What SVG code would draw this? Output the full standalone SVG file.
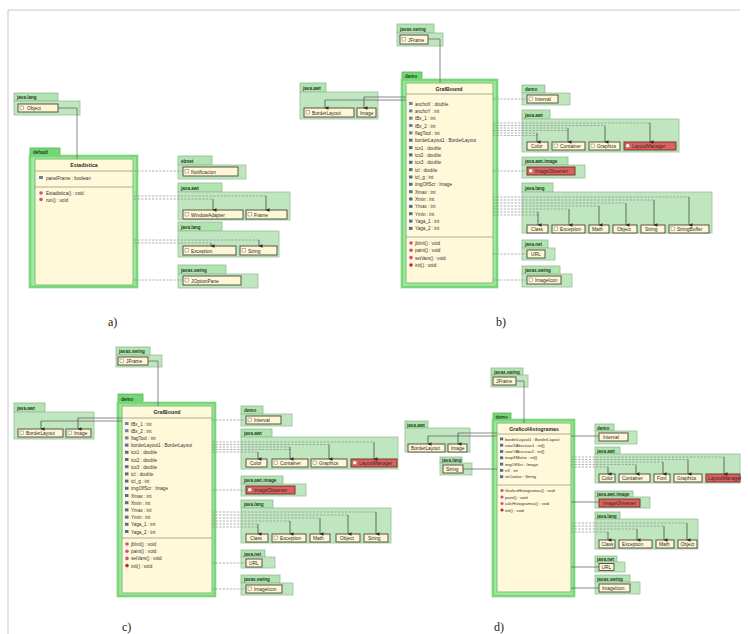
<svg xmlns="http://www.w3.org/2000/svg" width="748" height="634" viewBox="0 0 748 634">
<style>
.frame{stroke:#c8c8c8;stroke-width:1;fill:none}
.pb{fill:#bfe6bf;stroke:#9cbf9c;stroke-width:0.8}
.pt{fill:#b2e4b2;stroke:#92b992;stroke-width:0.8}
.mb{fill:#a3e8a3;stroke:#78d878;stroke-width:2.6}
.mt{fill:#74d674;stroke:#55b555;stroke-width:0.8}
.c{fill:#fff6d4;stroke:#55554a;stroke-width:1}
.r{fill:#de605c;stroke:#6e3a33;stroke-width:1}
.mc{fill:#fff8d9;stroke:#7bbf7b;stroke-width:1}
.sep{stroke:#9a9a80;stroke-width:0.8}
.ic{fill:#fffdf2;stroke:#777;stroke-width:0.5}
.ia{fill:#6c7fb8}
.ik{fill:#4f6aa6}
.im{fill:#d0508a}
.ix{fill:#b03030}
.t{font-family:"Liberation Sans",Arial,sans-serif;font-size:4.8px;fill:#2a2a2a}
.tp{font-family:"Liberation Sans",Arial,sans-serif;font-size:4.6px;font-weight:bold;fill:#1e3a1e}
.tn{font-family:"Liberation Sans",Arial,sans-serif;font-size:5.2px;font-weight:bold;fill:#2a2a2a}
.tm{font-family:"Liberation Sans",Arial,sans-serif;font-size:4.6px;fill:#333}
.tm2{font-family:"Liberation Sans",Arial,sans-serif;font-size:4.1px;fill:#333}
.lab{font-family:"Liberation Serif","Times New Roman",serif;font-size:12px;fill:#222}
.d{stroke:#8c8c8c;stroke-width:0.7;stroke-dasharray:2.2,1.4;fill:none}
.s{stroke:#6a6a6a;stroke-width:0.8;fill:none}
.v{stroke:#3a3a3a;stroke-width:0.7;fill:none}
</style>
<defs>
<marker id="ah" markerWidth="4" markerHeight="4" refX="2" refY="3.5" orient="auto-start-reverse" markerUnits="userSpaceOnUse" viewBox="0 0 4 4">
<path d="M0.3,0 L2,3.8 L3.7,0 Z" fill="#2a2a2a"/>
</marker>
</defs>
<path class="frame" d="M8 634 V10 H740"/>

<!-- ============ a) ============ -->
<g id="a-java-lang">
<rect class="pt" x="14" y="93" width="44" height="8"/><text class="tp" x="17" y="99">java.lang</text>
<rect class="pb" x="14" y="101" width="66" height="14"/>
<rect class="c" x="18" y="104" width="40" height="8"/><rect class="ic" x="20" y="106" width="3.5" height="3.5"/><text class="t" x="27" y="110">Object</text>
</g>
<g id="a-main">
<rect class="mt" x="30" y="148" width="30" height="8"/><text class="tp" x="33" y="154">default</text>
<rect class="mb" x="30" y="156" width="107" height="131"/>
<rect class="mc" x="35" y="159" width="98" height="126"/>
<text class="tn" x="84" y="167" text-anchor="middle">Estadistica</text>
<line class="sep" x1="35" y1="171" x2="133" y2="171"/>
<rect class="ia" x="39" y="176" width="4" height="3"/><text class="tm" x="46" y="179.5">panelFrame : boolean</text>
<line class="sep" x1="35" y1="187" x2="133" y2="187"/>
<circle class="im" cx="41" cy="193" r="1.8"/><text class="tm" x="46" y="195">Estadistica() : void</text>
<circle class="im" cx="41" cy="199.5" r="1.8"/><text class="tm" x="46" y="201.5">run() : void</text>
</g>
<g id="a-ebnet">
<rect class="pt" x="178" y="156" width="34" height="9"/><text class="tp" x="181" y="162.5">ebnet</text>
<rect class="pb" x="178" y="165" width="68" height="14"/>
<rect class="c" x="183" y="167" width="55" height="9"/><rect class="ic" x="185" y="169.5" width="3.5" height="3.5"/><text class="t" x="191" y="173.5">Notificacion</text>
</g>
<g id="a-java-awt">
<rect class="pt" x="178" y="183" width="44" height="9"/><text class="tp" x="181" y="189.5">java.awt</text>
<rect class="pb" x="178" y="192" width="112" height="28"/>
<rect class="c" x="183" y="210" width="60" height="9"/><rect class="ic" x="185" y="212.5" width="3.5" height="3.5"/><text class="t" x="191" y="216.5">WindowAdapter</text>
<rect class="c" x="246" y="210" width="41" height="9"/><rect class="ic" x="248" y="212.5" width="3.5" height="3.5"/><text class="t" x="254" y="216.5">Frame</text>
</g>
<g id="a-java-lang2">
<rect class="pt" x="178" y="222" width="44" height="9"/><text class="tp" x="181" y="228.5">java.lang</text>
<rect class="pb" x="178" y="231" width="101" height="26"/>
<rect class="c" x="183" y="246" width="53" height="9"/><rect class="ic" x="185" y="248.5" width="3.5" height="3.5"/><text class="t" x="191" y="252.5">Exception</text>
<rect class="c" x="240" y="246" width="37" height="9"/><rect class="ic" x="242" y="248.5" width="3.5" height="3.5"/><text class="t" x="248" y="252.5">String</text>
</g>
<g id="a-javax-swing">
<rect class="pt" x="178" y="265" width="48" height="9"/><text class="tp" x="181" y="271.5">javax.swing</text>
<rect class="pb" x="178" y="274" width="80" height="14"/>
<rect class="c" x="183" y="276" width="58" height="9"/><rect class="ic" x="185" y="278.5" width="3.5" height="3.5"/><text class="t" x="191" y="282.5">JOptionPane</text>
</g>
<text class="lab" x="108" y="326">a)</text>

<!-- ============ b) ============ -->
<g id="b-javax-swing-top">
<rect class="pt" x="397" y="24" width="37" height="9"/><text class="tp" x="400" y="30.5">javax.swing</text>
<rect class="pb" x="397" y="33" width="46" height="13"/>
<rect class="c" x="400" y="35" width="28" height="9"/><rect class="ic" x="402" y="37.5" width="3.5" height="3.5"/><text class="t" x="408" y="41.5">JFrame</text>
</g>
<g id="b-java-awt-left">
<rect class="pt" x="300" y="83" width="26" height="9"/><text class="tp" x="303" y="89.5">java.awt</text>
<rect class="pb" x="300" y="92" width="78" height="27"/>
<rect class="c" x="304" y="108" width="50" height="9"/><rect class="ic" x="306" y="110.5" width="3.5" height="3.5"/><text class="t" x="312" y="114.5">BorderLayout</text>
<rect class="c" x="357" y="108" width="19" height="9"/><text class="t" x="360" y="114.5">Image</text>
</g>
<g id="b-main">
<rect class="mt" x="402" y="72" width="20" height="8"/><text class="tp" x="405" y="78">demo</text>
<rect class="mb" x="402" y="80" width="95" height="207"/>
<rect class="mc" x="406" y="83" width="87" height="200"/>
<text class="tn" x="449" y="91" text-anchor="middle">GrafBound</text>
<line class="sep" x1="406" y1="94" x2="493" y2="94"/>
<g class="tm">
<rect class="ia" x="409" y="102" width="3.5" height="3"/><text x="415" y="105.5">anchoX : double</text>
<rect class="ia" x="409" y="109.4" width="3.5" height="3"/><text x="415" y="112.9">anchoY : int</text>
<rect class="ia" x="409" y="116.7" width="3.5" height="3"/><text x="415" y="120.2">tBx_1 : int</text>
<rect class="ia" x="409" y="124" width="3.5" height="3"/><text x="415" y="127.5">tBx_2 : int</text>
<rect class="ia" x="409" y="131.4" width="3.5" height="3"/><text x="415" y="134.9">flagTool : int</text>
<rect class="ik" x="409" y="138.7" width="3.5" height="3"/><text x="415" y="142.2">borderLayout1 : BorderLayout</text>
<rect class="ik" x="409" y="146.1" width="3.5" height="3"/><text x="415" y="149.6">tcx1 : double</text>
<rect class="ik" x="409" y="153.4" width="3.5" height="3"/><text x="415" y="156.9">tcx2 : double</text>
<rect class="ik" x="409" y="160.8" width="3.5" height="3"/><text x="415" y="164.3">tcx3 : double</text>
<rect class="ik" x="409" y="168.1" width="3.5" height="3"/><text x="415" y="171.6">tcl : double</text>
<rect class="ik" x="409" y="175.5" width="3.5" height="3"/><text x="415" y="179">tcl_g : int</text>
<rect class="ik" x="409" y="182.8" width="3.5" height="3"/><text x="415" y="186.3">imgOffScr : Image</text>
<rect class="ik" x="409" y="190.2" width="3.5" height="3"/><text x="415" y="193.7">Xmax : int</text>
<rect class="ik" x="409" y="197.5" width="3.5" height="3"/><text x="415" y="201">Xmin : int</text>
<rect class="ik" x="409" y="204.9" width="3.5" height="3"/><text x="415" y="208.4">Ymax : int</text>
<rect class="ik" x="409" y="212.2" width="3.5" height="3"/><text x="415" y="215.7">Ymin : int</text>
<rect class="ik" x="409" y="219.6" width="3.5" height="3"/><text x="415" y="223.1">Yaga_1 : int</text>
<rect class="ik" x="409" y="226.9" width="3.5" height="3"/><text x="415" y="230.4">Yaga_2 : int</text>
</g>
<line class="sep" x1="406" y1="237" x2="493" y2="237"/>
<g class="tm">
<circle class="im" cx="411" cy="243" r="1.8"/><text x="415" y="245">jbInit() : void</text>
<circle class="im" cx="411" cy="250.3" r="1.8"/><text x="415" y="252.3">paint() : void</text>
<circle class="im" cx="411" cy="257.6" r="1.8"/><text x="415" y="259.6">setVars() : void</text>
<circle class="ix" cx="411" cy="265" r="1.8"/><text x="415" y="267">init() : void</text>
</g>
</g>
<g id="b-demo">
<rect class="pt" x="522" y="85" width="23" height="8"/><text class="tp" x="525" y="91">demo</text>
<rect class="pb" x="522" y="93" width="48" height="12"/>
<rect class="c" x="527" y="95" width="31" height="8"/><rect class="ic" x="529" y="97" width="3.5" height="3.5"/><text class="t" x="535" y="101">Interval</text>
</g>
<g id="b-java-awt">
<rect class="pt" x="522" y="110" width="28" height="9"/><text class="tp" x="525" y="116.5">java.awt</text>
<rect class="pb" x="522" y="119" width="157" height="33"/>
<rect class="c" x="527" y="142" width="21" height="8"/><text class="t" x="531" y="148">Color</text>
<rect class="c" x="552" y="142" width="33" height="8"/><rect class="ic" x="554" y="144" width="3.5" height="3.5"/><text class="t" x="560" y="148">Container</text>
<rect class="c" x="589" y="142" width="31" height="8"/><rect class="ic" x="591" y="144" width="3.5" height="3.5"/><text class="t" x="597" y="148">Graphics</text>
<rect class="r" x="624" y="142" width="52" height="8"/><rect class="ic" x="626" y="144" width="3.5" height="3.5"/><text class="t" x="632" y="148">LayoutManager</text>
</g>
<g id="b-java-awt-image">
<rect class="pt" x="522" y="157" width="46" height="8"/><text class="tp" x="525" y="163">java.awt.image</text>
<rect class="pb" x="522" y="165" width="63" height="13"/>
<rect class="r" x="527" y="167" width="48" height="8"/><rect class="ic" x="529" y="169" width="3.5" height="3.5"/><text class="t" x="535" y="173">ImageObserver</text>
</g>
<g id="b-java-lang">
<rect class="pt" x="522" y="183" width="31" height="9"/><text class="tp" x="525" y="189.5">java.lang</text>
<rect class="pb" x="522" y="192" width="190" height="41"/>
<rect class="c" x="527" y="225" width="21" height="8"/><text class="t" x="531" y="231">Class</text>
<rect class="c" x="552" y="225" width="33" height="8"/><rect class="ic" x="554" y="227" width="3.5" height="3.5"/><text class="t" x="560" y="231">Exception</text>
<rect class="c" x="589" y="225" width="20" height="8"/><text class="t" x="592" y="231">Math</text>
<rect class="c" x="613" y="225" width="24" height="8"/><text class="t" x="617" y="231">Object</text>
<rect class="c" x="641" y="225" width="24" height="8"/><text class="t" x="645" y="231">String</text>
<rect class="c" x="669" y="225" width="40" height="8"/><rect class="ic" x="671" y="227" width="3.5" height="3.5"/><text class="t" x="677" y="231">StringBuffer</text>
</g>
<g id="b-java-net">
<rect class="pt" x="522" y="240" width="26" height="8"/><text class="tp" x="525" y="246">java.net</text>
<rect class="pb" x="522" y="248" width="33" height="12"/>
<rect class="c" x="527" y="250" width="18" height="8"/><text class="t" x="531" y="256">URL</text>
</g>
<g id="b-javax-swing">
<rect class="pt" x="522" y="266" width="38" height="8"/><text class="tp" x="525" y="272">javax.swing</text>
<rect class="pb" x="522" y="274" width="50" height="13"/>
<rect class="c" x="527" y="276" width="34" height="8"/><rect class="ic" x="529" y="278" width="3.5" height="3.5"/><text class="t" x="535" y="282">ImageIcon</text>
</g>
<text class="lab" x="496" y="326">b)</text>

<!-- ============ c) ============ -->
<g id="c-javax-swing-top">
<rect class="pt" x="116" y="347" width="34" height="8"/><text class="tp" x="119" y="353">javax.swing</text>
<rect class="pb" x="116" y="355" width="46" height="12"/>
<rect class="c" x="118" y="357" width="30" height="8"/><rect class="ic" x="120" y="359" width="3.5" height="3.5"/><text class="t" x="126" y="363">JFrame</text>
</g>
<g id="c-java-awt-left">
<rect class="pt" x="14" y="403" width="31" height="9"/><text class="tp" x="17" y="409.5">java.awt</text>
<rect class="pb" x="14" y="412" width="80" height="27"/>
<rect class="c" x="18" y="429" width="45" height="8"/><rect class="ic" x="20" y="431" width="3.5" height="3.5"/><text class="t" x="26" y="435">BorderLayout</text>
<rect class="c" x="66" y="429" width="25" height="8"/><rect class="ic" x="68" y="431" width="3.5" height="3.5"/><text class="t" x="74" y="435">Image</text>
</g>
<g id="c-main">
<rect class="mt" x="118" y="394" width="25" height="9"/><text class="tp" x="121" y="400.5">demo</text>
<rect class="mb" x="118" y="403" width="97" height="193"/>
<rect class="mc" x="122" y="406" width="90" height="187"/>
<text class="tn" x="167" y="414" text-anchor="middle">GrafBound</text>
<line class="sep" x1="122" y1="418" x2="212" y2="418"/>
<g class="tm">
<rect class="ia" x="125" y="422" width="3.5" height="3"/><text x="131" y="425.5">tBx_1 : int</text>
<rect class="ia" x="125" y="429.2" width="3.5" height="3"/><text x="131" y="432.7">tBx_2 : int</text>
<rect class="ia" x="125" y="436.4" width="3.5" height="3"/><text x="131" y="439.9">flagTool : int</text>
<rect class="ik" x="125" y="443.6" width="3.5" height="3"/><text x="131" y="447.1">borderLayout1 : BorderLayout</text>
<rect class="ik" x="125" y="450.8" width="3.5" height="3"/><text x="131" y="454.3">tcx1 : double</text>
<rect class="ik" x="125" y="458" width="3.5" height="3"/><text x="131" y="461.5">tcx2 : double</text>
<rect class="ik" x="125" y="465.2" width="3.5" height="3"/><text x="131" y="468.7">tcx3 : double</text>
<rect class="ik" x="125" y="472.4" width="3.5" height="3"/><text x="131" y="475.9">tcl : double</text>
<rect class="ik" x="125" y="479.6" width="3.5" height="3"/><text x="131" y="483.1">tcl_g : int</text>
<rect class="ik" x="125" y="486.8" width="3.5" height="3"/><text x="131" y="490.3">imgOffScr : Image</text>
<rect class="ik" x="125" y="494" width="3.5" height="3"/><text x="131" y="497.5">Xmax : int</text>
<rect class="ik" x="125" y="501.2" width="3.5" height="3"/><text x="131" y="504.7">Xmin : int</text>
<rect class="ik" x="125" y="508.4" width="3.5" height="3"/><text x="131" y="511.9">Ymax : int</text>
<rect class="ik" x="125" y="515.6" width="3.5" height="3"/><text x="131" y="519.1">Ymin : int</text>
<rect class="ik" x="125" y="522.8" width="3.5" height="3"/><text x="131" y="526.3">Yaga_1 : int</text>
<rect class="ik" x="125" y="530" width="3.5" height="3"/><text x="131" y="533.5">Yaga_2 : int</text>
</g>
<line class="sep" x1="122" y1="538" x2="212" y2="538"/>
<g class="tm">
<circle class="im" cx="127" cy="544" r="1.8"/><text x="131" y="546">jbInit() : void</text>
<circle class="im" cx="127" cy="551.2" r="1.8"/><text x="131" y="553.2">paint() : void</text>
<circle class="im" cx="127" cy="558.4" r="1.8"/><text x="131" y="560.4">setVars() : void</text>
<circle class="ix" cx="127" cy="565.6" r="1.8"/><text x="131" y="567.6">init() : void</text>
</g>
</g>
<g id="c-demo">
<rect class="pt" x="241" y="406" width="22" height="8"/><text class="tp" x="244" y="412">demo</text>
<rect class="pb" x="241" y="414" width="51" height="12"/>
<rect class="c" x="246" y="416" width="35" height="8"/><rect class="ic" x="248" y="418" width="3.5" height="3.5"/><text class="t" x="254" y="422">Interval</text>
</g>
<g id="c-java-awt">
<rect class="pt" x="241" y="429" width="31" height="8"/><text class="tp" x="244" y="435">java.awt</text>
<rect class="pb" x="241" y="437" width="157" height="32"/>
<rect class="c" x="246" y="459" width="21" height="8"/><text class="t" x="250" y="465">Color</text>
<rect class="c" x="272" y="459" width="36" height="8"/><rect class="ic" x="274" y="461" width="3.5" height="3.5"/><text class="t" x="280" y="465">Container</text>
<rect class="c" x="311" y="459" width="36" height="8"/><rect class="ic" x="313" y="461" width="3.5" height="3.5"/><text class="t" x="319" y="465">Graphics</text>
<rect class="r" x="351" y="459" width="46" height="8"/><rect class="ic" x="353" y="461" width="3.5" height="3.5"/><text class="t" x="359" y="465">LayoutManager</text>
</g>
<g id="c-java-awt-image">
<rect class="pt" x="241" y="476" width="42" height="8"/><text class="tp" x="244" y="482">java.awt.image</text>
<rect class="pb" x="241" y="484" width="65" height="12"/>
<rect class="r" x="246" y="486" width="49" height="8"/><rect class="ic" x="248" y="488" width="3.5" height="3.5"/><text class="t" x="254" y="492">ImageObserver</text>
</g>
<g id="c-java-lang">
<rect class="pt" x="241" y="500" width="32" height="8"/><text class="tp" x="244" y="506">java.lang</text>
<rect class="pb" x="241" y="508" width="150" height="35"/>
<rect class="c" x="246" y="534" width="22" height="8"/><text class="t" x="250" y="540">Class</text>
<rect class="c" x="272" y="534" width="34" height="8"/><rect class="ic" x="274" y="536" width="3.5" height="3.5"/><text class="t" x="280" y="540">Exception</text>
<rect class="c" x="310" y="534" width="20" height="8"/><text class="t" x="313" y="540">Math</text>
<rect class="c" x="336" y="534" width="24" height="8"/><text class="t" x="340" y="540">Object</text>
<rect class="c" x="364" y="534" width="24" height="8"/><text class="t" x="368" y="540">String</text>
</g>
<g id="c-java-net">
<rect class="pt" x="241" y="550" width="24" height="7"/><text class="tp" x="244" y="555.5">java.net</text>
<rect class="pb" x="241" y="557" width="34" height="11"/>
<rect class="c" x="246" y="559" width="16" height="8"/><text class="t" x="249" y="565">URL</text>
</g>
<g id="c-javax-swing">
<rect class="pt" x="241" y="575" width="39" height="8"/><text class="tp" x="244" y="581">javax.swing</text>
<rect class="pb" x="241" y="583" width="52" height="12"/>
<rect class="c" x="246" y="585" width="36" height="8"/><rect class="ic" x="248" y="587" width="3.5" height="3.5"/><text class="t" x="254" y="591">ImageIcon</text>
</g>
<text class="lab" x="122" y="631">c)</text>

<!-- ============ d) ============ -->
<g id="d-javax-swing-top">
<rect class="pt" x="491" y="368" width="32" height="7"/><text class="tp" x="494" y="373.5">javax.swing</text>
<rect class="pb" x="491" y="375" width="37" height="12"/>
<rect class="c" x="493" y="377" width="23" height="8"/><text class="t" x="496" y="383">JFrame</text>
</g>
<g id="d-java-awt-left">
<rect class="pt" x="405" y="421" width="23" height="7"/><text class="tp" x="407" y="426.5">java.awt</text>
<rect class="pb" x="405" y="428" width="65" height="24"/>
<rect class="c" x="408" y="444" width="37" height="8"/><text class="t" x="411" y="450">BorderLayout</text>
<rect class="c" x="448" y="444" width="19" height="8"/><text class="t" x="451" y="450">Image</text>
</g>
<g id="d-java-lang-left">
<rect class="pt" x="440" y="457" width="22" height="6"/><text class="tp" x="442" y="462">java.lang</text>
<rect class="pb" x="440" y="463" width="32" height="12"/>
<rect class="c" x="443" y="465" width="20" height="8"/><text class="t" x="446" y="471">String</text>
</g>
<g id="d-main">
<rect class="mt" x="493" y="413" width="18" height="7"/><text class="tp" x="495.5" y="418.5">demo</text>
<rect class="mb" x="493" y="420" width="81" height="176"/>
<rect class="mc" x="497" y="423" width="74" height="169"/>
<text class="tn" x="534" y="431" text-anchor="middle">GraficoHistogramas</text>
<line class="sep" x1="497" y1="434" x2="571" y2="434"/>
<g class="tm2">
<rect class="ik" x="500" y="437.5" width="3.2" height="2.8"/><text x="505" y="440.5">borderLayout1 : BorderLayout</text>
<rect class="ik" x="500" y="443.8" width="3.2" height="2.8"/><text x="505" y="446.8">coorXAbscisas1 : int[]</text>
<rect class="ik" x="500" y="450.1" width="3.2" height="2.8"/><text x="505" y="453.1">coorYAbscisas1 : int[]</text>
<rect class="ik" x="500" y="456.4" width="3.2" height="2.8"/><text x="505" y="459.4">mapXMatriz : int[]</text>
<rect class="ik" x="500" y="462.7" width="3.2" height="2.8"/><text x="505" y="465.7">imgOffScr : Image</text>
<rect class="ik" x="500" y="469" width="3.2" height="2.8"/><text x="505" y="472">nX : int</text>
<rect class="ik" x="500" y="475.3" width="3.2" height="2.8"/><text x="505" y="478.3">strContar : String</text>
</g>
<line class="sep" x1="497" y1="485" x2="571" y2="485"/>
<g class="tm2">
<circle class="im" cx="502" cy="490.5" r="1.6"/><text x="505" y="492.3">GraficoHistogramas() : void</text>
<circle class="im" cx="502" cy="497" r="1.6"/><text x="505" y="498.8">paint() : void</text>
<circle class="im" cx="502" cy="503.5" r="1.6"/><text x="505" y="505.3">calcHistogramas() : void</text>
<circle class="ix" cx="502" cy="510" r="1.6"/><text x="505" y="511.8">init() : void</text>
</g>
</g>
<g id="d-demo">
<rect class="pt" x="595" y="424" width="19" height="7"/><text class="tp" x="597" y="429.5">demo</text>
<rect class="pb" x="595" y="431" width="42" height="13"/>
<rect class="c" x="599" y="433" width="29" height="8"/><text class="t" x="603" y="439">Interval</text>
</g>
<g id="d-java-awt">
<rect class="pt" x="595" y="447" width="25" height="7"/><text class="tp" x="597" y="452.5">java.awt</text>
<rect class="pb" x="595" y="454" width="145" height="29"/>
<rect class="c" x="599" y="474" width="16" height="8"/><text class="t" x="601.5" y="480">Color</text>
<rect class="c" x="619" y="474" width="31" height="8"/><text class="t" x="622" y="480">Container</text>
<rect class="c" x="654" y="474" width="16" height="8"/><text class="t" x="657" y="480">Font</text>
<rect class="c" x="674" y="474" width="28" height="8"/><text class="t" x="677" y="480">Graphics</text>
<rect class="r" x="706" y="474" width="34" height="8"/><text class="t" x="708" y="480">LayoutManager</text>
</g>
<g id="d-java-awt-image">
<rect class="pt" x="595" y="491" width="38" height="6"/><text class="tp" x="597" y="496">java.awt.image</text>
<rect class="pb" x="595" y="497" width="55" height="11"/>
<rect class="r" x="599" y="499" width="41" height="8"/><text class="t" x="603" y="505">ImageObserver</text>
</g>
<g id="d-java-lang">
<rect class="pt" x="595" y="512" width="25" height="7"/><text class="tp" x="597" y="517.5">java.lang</text>
<rect class="pb" x="595" y="519" width="103" height="30"/>
<rect class="c" x="599" y="540" width="16" height="8"/><text class="t" x="601.5" y="546">Class</text>
<rect class="c" x="619" y="540" width="33" height="8"/><text class="t" x="622" y="546">Exception</text>
<rect class="c" x="656" y="540" width="18" height="8"/><text class="t" x="659" y="546">Math</text>
<rect class="c" x="678" y="540" width="19" height="8"/><text class="t" x="680.5" y="546">Object</text>
</g>
<g id="d-java-net">
<rect class="pt" x="595" y="556" width="22" height="6"/><text class="tp" x="597" y="561">java.net</text>
<rect class="pb" x="595" y="562" width="30" height="10"/>
<rect class="c" x="599" y="563.5" width="15" height="7"/><text class="t" x="601.5" y="568.8">URL</text>
</g>
<g id="d-javax-swing">
<rect class="pt" x="595" y="575" width="35" height="7"/><text class="tp" x="597" y="580.5">javax.swing</text>
<rect class="pb" x="595" y="582" width="45" height="12"/>
<rect class="c" x="599" y="584" width="31" height="8"/><text class="t" x="602" y="590">ImageIcon</text>
</g>
<text class="lab" x="494" y="631">d)</text>

<!-- ============ connectors ============ -->
<g id="connectors">
<!-- a -->
<path class="s" d="M58 108 H77 V159"/>
<path class="d" d="M134 171 H183"/>
<path class="d" d="M134 196 H266"/><path class="d" d="M134 199 H213"/>
<path class="v" d="M266 196 V210" marker-end="url(#ah)"/><path class="v" d="M213 199 V210" marker-end="url(#ah)"/>
<path class="d" d="M134 240 H259"/><path class="d" d="M134 243 H211"/>
<path class="v" d="M259 240 V246" marker-end="url(#ah)"/><path class="v" d="M211 243 V246" marker-end="url(#ah)"/>
<path class="d" d="M134 280 H183"/>
<!-- b -->
<path class="s" d="M428 39 H440 V83"/>
<path class="s" d="M406 97 H364"/><path class="v" d="M364 97 V108" marker-end="url(#ah)"/>
<path class="s" d="M406 100 H325"/><path class="v" d="M325 100 V108" marker-end="url(#ah)"/>
<path class="d" d="M493 99 H527"/>
<path class="d" d="M493 123 H650"/><path class="d" d="M493 125.5 H605"/><path class="d" d="M493 128 H568"/><path class="d" d="M493 130.5 H568"/><path class="d" d="M493 133 H537"/><path class="d" d="M493 135.5 H537"/>
<path class="v" d="M650 123 V142" marker-end="url(#ah)"/><path class="v" d="M605 125.5 V142" marker-end="url(#ah)"/><path class="v" d="M568 128 V142" marker-end="url(#ah)"/><path class="v" d="M537 133 V142" marker-end="url(#ah)"/>
<path class="d" d="M493 171 H527"/>
<path class="d" d="M493 197 H689"/><path class="d" d="M493 200 H654"/><path class="d" d="M493 203 H626"/><path class="d" d="M493 206 H599"/><path class="d" d="M493 209 H569"/><path class="d" d="M493 212 H538"/><path class="d" d="M493 215 H538"/>
<path class="v" d="M689 197 V225" marker-end="url(#ah)"/><path class="v" d="M654 200 V225" marker-end="url(#ah)"/><path class="v" d="M626 203 V225" marker-end="url(#ah)"/><path class="v" d="M599 206 V225" marker-end="url(#ah)"/><path class="v" d="M569 209 V225" marker-end="url(#ah)"/><path class="v" d="M538 212 V225" marker-end="url(#ah)"/>
<path class="d" d="M493 254 H527"/>
<path class="d" d="M493 280 H527"/>
<!-- c -->
<path class="s" d="M148 361 H158 V406"/>
<path class="s" d="M122 418 H78"/><path class="v" d="M78 418 V429" marker-end="url(#ah)"/>
<path class="s" d="M122 421 H41"/><path class="v" d="M41 421 V429" marker-end="url(#ah)"/>
<path class="d" d="M212 420 H246"/>
<path class="d" d="M212 442 H374"/><path class="d" d="M212 444.5 H329"/><path class="d" d="M212 447 H290"/><path class="d" d="M212 449.5 H290"/><path class="d" d="M212 452 H258"/>
<path class="v" d="M374 442 V459" marker-end="url(#ah)"/><path class="v" d="M329 444.5 V459" marker-end="url(#ah)"/><path class="v" d="M290 447 V459" marker-end="url(#ah)"/><path class="v" d="M258 452 V459" marker-end="url(#ah)"/>
<path class="d" d="M212 490 H246"/>
<path class="d" d="M212 512 H376"/><path class="d" d="M212 515 H348"/><path class="d" d="M212 518 H320"/><path class="d" d="M212 521 H290"/><path class="d" d="M212 524 H258"/><path class="d" d="M212 527 H258"/>
<path class="v" d="M376 512 V534" marker-end="url(#ah)"/><path class="v" d="M348 515 V534" marker-end="url(#ah)"/><path class="v" d="M320 518 V534" marker-end="url(#ah)"/><path class="v" d="M290 521 V534" marker-end="url(#ah)"/><path class="v" d="M258 524 V534" marker-end="url(#ah)"/>
<path class="d" d="M212 563 H246"/>
<path class="d" d="M212 589 H246"/>
<!-- d -->
<path class="s" d="M516 381 H524 V423"/>
<path class="s" d="M497 433 H458"/><path class="v" d="M458 433 V444" marker-end="url(#ah)"/>
<path class="s" d="M497 436 H428"/><path class="v" d="M428 436 V444" marker-end="url(#ah)"/>
<path class="s" d="M497 469 H463"/>
<path class="s" d="M571 436 H599"/>
<path class="d" d="M571 457 H724"/><path class="d" d="M571 459.5 H688"/><path class="d" d="M571 462 H663"/><path class="d" d="M571 464.5 H636"/><path class="d" d="M571 467 H608"/>
<path class="v" d="M724 457 V474" marker-end="url(#ah)"/><path class="v" d="M688 459.5 V474" marker-end="url(#ah)"/><path class="v" d="M663 462 V474" marker-end="url(#ah)"/><path class="v" d="M636 464.5 V474" marker-end="url(#ah)"/><path class="v" d="M608 467 V474" marker-end="url(#ah)"/>
<path class="s" d="M571 502 H599"/>
<path class="d" d="M571 523 H687"/><path class="d" d="M571 526 H664"/><path class="d" d="M571 529 H637"/><path class="d" d="M571 532 H608"/>
<path class="v" d="M687 523 V540" marker-end="url(#ah)"/><path class="v" d="M664 526 V540" marker-end="url(#ah)"/><path class="v" d="M637 529 V540" marker-end="url(#ah)"/><path class="v" d="M608 532 V540" marker-end="url(#ah)"/>
<path class="s" d="M571 567 H599"/>
<path class="s" d="M571 588 H599"/>
</g>
</svg>
